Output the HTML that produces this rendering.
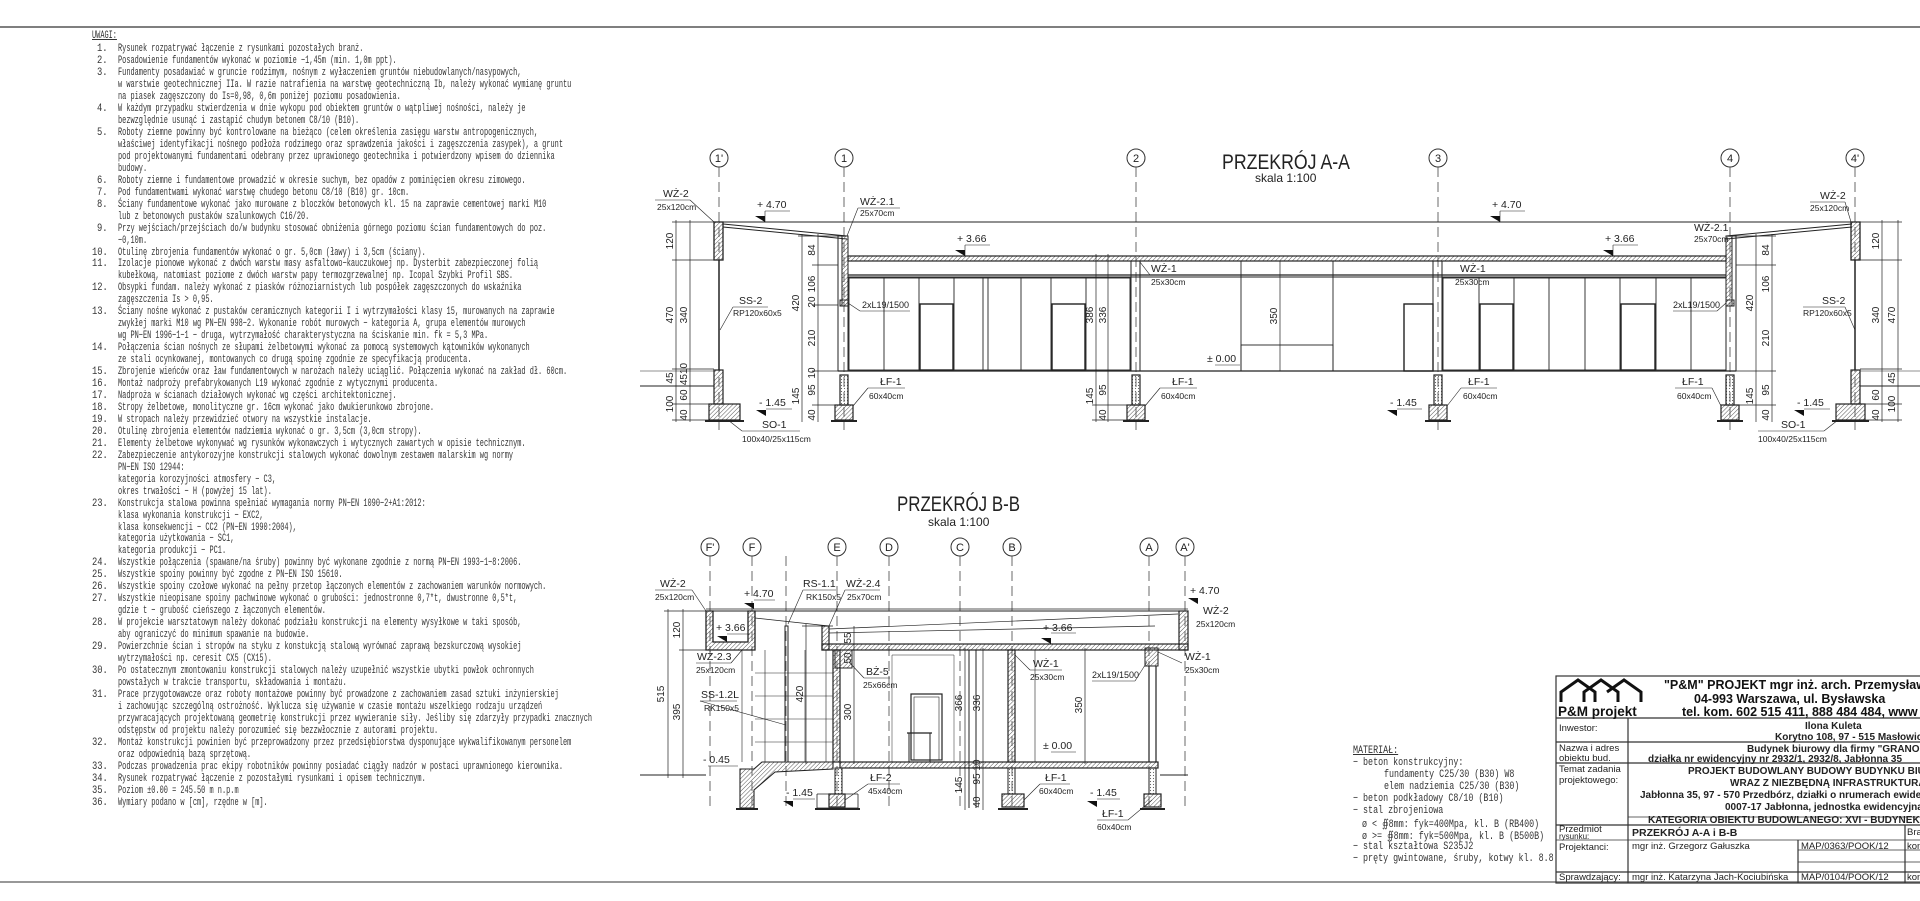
<!DOCTYPE html>
<html><head><meta charset="utf-8">
<style>
html,body{margin:0;padding:0;background:#fff;}
body{width:1920px;height:901px;position:relative;overflow:hidden;}
svg{position:absolute;left:0;top:0;}
.notes{position:absolute;left:0;top:0;font-family:"Liberation Mono",monospace;font-size:11px;color:#333;}
.notes div{position:absolute;white-space:nowrap;transform:scaleX(0.63);transform-origin:0 0;}
.notes div.num{transform:scaleX(0.8);}
.notes div.m{transform:scaleX(0.76);}
</style></head><body>
<svg width="1920" height="901" viewBox="0 0 1920 901" font-family="Liberation Sans, sans-serif" fill="none" stroke="#222" stroke-width="1">
<defs>
<pattern id="h" width="3" height="3" patternUnits="userSpaceOnUse" patternTransform="rotate(45)"><line x1="0" y1="0" x2="0" y2="3" stroke="#555" stroke-width="1"/></pattern>
<pattern id="d" width="3" height="3" patternUnits="userSpaceOnUse"><circle cx="1.5" cy="1.5" r="0.6" fill="#666" stroke="none"/></pattern>
</defs>
<line x1="0" y1="27" x2="1920" y2="27" stroke="#555" stroke-width="1.5"/>
<line x1="0" y1="882" x2="1920" y2="882" stroke="#777" stroke-width="1.5"/>

<!-- ================= SECTION A-A ================= -->
<text x="1222" y="169" font-size="21" fill="#222" stroke="none" textLength="128" lengthAdjust="spacingAndGlyphs">PRZEKRÓJ A-A</text>
<text x="1255" y="182" font-size="12" fill="#222" stroke="none">skala 1:100</text>
<g stroke="#333">
<circle cx="719" cy="158" r="9"/><circle cx="844" cy="158" r="9"/><circle cx="1136" cy="158" r="9"/>
<circle cx="1438" cy="158" r="9"/><circle cx="1730" cy="158" r="9"/><circle cx="1855" cy="158" r="9"/>
</g>
<g font-size="11" fill="#222" stroke="none" text-anchor="middle">
<text x="719" y="162">1'</text><text x="844" y="162">1</text><text x="1136" y="162">2</text>
<text x="1438" y="162">3</text><text x="1730" y="162">4</text><text x="1855" y="162">4'</text>
</g>
<g stroke="#444" stroke-dasharray="10,5" stroke-width="0.8">
<line x1="719" y1="167" x2="719" y2="430"/><line x1="844" y1="167" x2="844" y2="430"/>
<line x1="1136" y1="167" x2="1136" y2="430"/><line x1="1438" y1="167" x2="1438" y2="430"/>
<line x1="1730" y1="167" x2="1730" y2="430"/><line x1="1855" y1="167" x2="1855" y2="430"/>
</g>
<line x1="714" y1="222" x2="1860" y2="222"/>
<line x1="723" y1="224" x2="847" y2="236"/><line x1="723" y1="227" x2="847" y2="239"/>
<line x1="1726" y1="236" x2="1852" y2="224"/><line x1="1726" y1="239" x2="1852" y2="227"/>
<rect x="714" y="222" width="9" height="38" fill="url(#h)" stroke-width="1.3"/>
<rect x="1851" y="222" width="9" height="38" fill="url(#h)" stroke-width="1.3"/>
<rect x="848" y="256" width="878" height="5" fill="url(#h)" stroke-width="1.2"/>
<line x1="848" y1="275" x2="1726" y2="275" stroke-width="1.3"/><line x1="848" y1="277" x2="1726" y2="277"/>
<rect x="838" y="236" width="10" height="135"/>
<rect x="842" y="236" width="6" height="70" fill="url(#h)"/>
<rect x="840" y="300" width="8" height="6" fill="url(#h)"/>
<rect x="1726" y="236" width="10" height="135"/>
<rect x="1726" y="236" width="6" height="70" fill="url(#h)"/>
<rect x="1726" y="300" width="8" height="6" fill="url(#h)"/>
<line x1="719" y1="260" x2="719" y2="370" stroke-width="1.5"/>
<line x1="1855" y1="260" x2="1855" y2="370" stroke-width="1.5"/>
<rect x="1131" y="261" width="9" height="110"/><rect x="1433" y="261" width="9" height="110"/>
<line x1="838" y1="371" x2="1736" y2="371" stroke-width="1.3"/>
<line x1="640" y1="386" x2="714" y2="386"/><line x1="1860" y1="386" x2="1920" y2="386"/>
<line x1="640" y1="371" x2="714" y2="371" stroke-width="0.6"/><line x1="1860" y1="371" x2="1920" y2="371" stroke-width="0.6"/>
<g stroke-width="0.9">
<rect x="849" y="278" width="281" height="92"/>
<line x1="884" y1="278" x2="884" y2="370"/><line x1="919" y1="278" x2="919" y2="370"/>
<line x1="954" y1="278" x2="954" y2="370"/><line x1="983" y1="278" x2="983" y2="370"/>
<line x1="988" y1="278" x2="988" y2="370"/><line x1="1021" y1="278" x2="1021" y2="370"/>
<line x1="1051" y1="278" x2="1051" y2="370"/><line x1="1086" y1="278" x2="1086" y2="370"/>
<rect x="920" y="304" width="33" height="66" stroke-width="1.4"/><rect x="1052" y="304" width="33" height="66" stroke-width="1.4"/>
<rect x="1443" y="278" width="283" height="92"/>
<line x1="1479" y1="278" x2="1479" y2="370"/><line x1="1514" y1="278" x2="1514" y2="370"/>
<line x1="1549" y1="278" x2="1549" y2="370"/><line x1="1585" y1="278" x2="1585" y2="370"/>
<line x1="1620" y1="278" x2="1620" y2="370"/><line x1="1656" y1="278" x2="1656" y2="370"/>
<line x1="1691" y1="278" x2="1691" y2="370"/>
<rect x="1480" y="304" width="33" height="66" stroke-width="1.4"/><rect x="1621" y="304" width="34" height="66" stroke-width="1.4"/>
<line x1="1241" y1="261" x2="1241" y2="371"/><line x1="1333" y1="261" x2="1333" y2="371"/>
<rect x="1241" y="345" width="92" height="26"/>
<rect x="1404" y="304" width="29" height="67" stroke-width="1.4"/>
</g>
<g stroke-width="1.2">
<rect x="714" y="370" width="9" height="34" fill="url(#h)"/><rect x="709" y="404" width="31" height="16" fill="url(#h)"/>
<line x1="705" y1="421" x2="744" y2="421" stroke-width="2"/>
<rect x="1851" y="370" width="9" height="34" fill="url(#h)"/><rect x="1836" y="404" width="29" height="16" fill="url(#h)"/>
<line x1="1832" y1="421" x2="1869" y2="421" stroke-width="2"/>
<rect x="840" y="375" width="8" height="30" fill="url(#d)"/><rect x="835" y="405" width="18" height="15" fill="url(#h)"/><line x1="831" y1="421" x2="857" y2="421" stroke-width="2"/>
<rect x="1132" y="375" width="8" height="30" fill="url(#d)"/><rect x="1127" y="405" width="18" height="15" fill="url(#h)"/><line x1="1123" y1="421" x2="1149" y2="421" stroke-width="2"/>
<rect x="1434" y="375" width="8" height="30" fill="url(#d)"/><rect x="1429" y="405" width="18" height="15" fill="url(#h)"/><line x1="1425" y1="421" x2="1451" y2="421" stroke-width="2"/>
<rect x="1726" y="375" width="8" height="30" fill="url(#d)"/><rect x="1721" y="405" width="18" height="15" fill="url(#h)"/><line x1="1717" y1="421" x2="1743" y2="421" stroke-width="2"/>
</g>
<g stroke-width="0.7">
<line x1="676" y1="220" x2="676" y2="422"/><line x1="690" y1="220" x2="690" y2="422"/>
<line x1="672" y1="222" x2="714" y2="222"/><line x1="672" y1="260" x2="714" y2="260"/><line x1="672" y1="369" x2="714" y2="369"/><line x1="672" y1="386" x2="714" y2="386"/><line x1="672" y1="404" x2="714" y2="404"/><line x1="672" y1="420" x2="714" y2="420"/>
<line x1="802" y1="234" x2="802" y2="422"/><line x1="818" y1="234" x2="818" y2="422"/>
<line x1="798" y1="236" x2="838" y2="236"/><line x1="812" y1="265" x2="838" y2="265"/><line x1="812" y1="305" x2="838" y2="305"/><line x1="812" y1="371" x2="838" y2="371"/><line x1="812" y1="405" x2="838" y2="405"/>
<line x1="1096" y1="254" x2="1096" y2="422"/><line x1="1108" y1="254" x2="1108" y2="422"/>
<line x1="1092" y1="256" x2="1131" y2="256"/><line x1="1092" y1="371" x2="1131" y2="371"/><line x1="1092" y1="405" x2="1131" y2="405"/><line x1="1092" y1="420" x2="1131" y2="420"/>
<line x1="1756" y1="234" x2="1756" y2="422"/><line x1="1772" y1="234" x2="1772" y2="422"/>
<line x1="1736" y1="236" x2="1776" y2="236"/><line x1="1736" y1="265" x2="1776" y2="265"/><line x1="1736" y1="371" x2="1776" y2="371"/><line x1="1736" y1="405" x2="1776" y2="405"/>
<line x1="1882" y1="220" x2="1882" y2="422"/><line x1="1898" y1="220" x2="1898" y2="422"/>
<line x1="1860" y1="222" x2="1902" y2="222"/><line x1="1860" y1="260" x2="1902" y2="260"/><line x1="1860" y1="369" x2="1902" y2="369"/><line x1="1860" y1="386" x2="1902" y2="386"/><line x1="1860" y1="404" x2="1902" y2="404"/><line x1="1860" y1="420" x2="1902" y2="420"/>
<line x1="1280" y1="261" x2="1280" y2="371"/>
</g>
<g font-size="10" fill="#222" stroke="none" text-anchor="middle">
<text transform="translate(673,241) rotate(-90)">120</text>
<text transform="translate(673,315) rotate(-90)">470</text>
<text transform="translate(687,315) rotate(-90)">340</text>
<text transform="translate(673,404) rotate(-90)">100</text>
<text transform="translate(673,378) rotate(-90)">45</text>
<text transform="translate(687,395) rotate(-90)">60</text>
<text transform="translate(687,415) rotate(-90)">40</text>
<text transform="translate(687,374) rotate(-90)">4510</text>
<text transform="translate(799,303) rotate(-90)">420</text>
<text transform="translate(815,250) rotate(-90)">84</text>
<text transform="translate(815,284) rotate(-90)">106</text>
<text transform="translate(815,302) rotate(-90)">20</text>
<text transform="translate(815,338) rotate(-90)">210</text>
<text transform="translate(799,396) rotate(-90)">145</text>
<text transform="translate(815,390) rotate(-90)">95</text>
<text transform="translate(815,415) rotate(-90)">40</text>
<text transform="translate(815,373) rotate(-90)">10</text>
<text transform="translate(1093,315) rotate(-90)">386</text>
<text transform="translate(1106,315) rotate(-90)">336</text>
<text transform="translate(1093,396) rotate(-90)">145</text>
<text transform="translate(1106,390) rotate(-90)">95</text>
<text transform="translate(1106,415) rotate(-90)">40</text>
<text transform="translate(1277,316) rotate(-90)">350</text>
<text transform="translate(1753,303) rotate(-90)">420</text>
<text transform="translate(1769,250) rotate(-90)">84</text>
<text transform="translate(1769,284) rotate(-90)">106</text>
<text transform="translate(1769,338) rotate(-90)">210</text>
<text transform="translate(1753,396) rotate(-90)">145</text>
<text transform="translate(1769,390) rotate(-90)">95</text>
<text transform="translate(1769,415) rotate(-90)">40</text>
<text transform="translate(1879,241) rotate(-90)">120</text>
<text transform="translate(1895,315) rotate(-90)">470</text>
<text transform="translate(1879,315) rotate(-90)">340</text>
<text transform="translate(1895,404) rotate(-90)">100</text>
<text transform="translate(1895,378) rotate(-90)">45</text>
<text transform="translate(1879,395) rotate(-90)">60</text>
<text transform="translate(1879,415) rotate(-90)">40</text>
</g>
<g font-size="10.5" fill="#222" stroke="none">
<text x="663" y="197">WŻ-2</text><text x="657" y="210" font-size="8.5">25x120cm</text>
<text x="860" y="205">WŻ-2.1</text><text x="860" y="216" font-size="8.5">25x70cm</text>
<text x="1151" y="272">WŻ-1</text><text x="1151" y="285" font-size="8.5">25x30cm</text>
<text x="1460" y="272">WŻ-1</text><text x="1455" y="285" font-size="8.5">25x30cm</text>
<text x="862" y="308" font-size="9">2xL19/1500</text>
<text x="1673" y="308" font-size="9">2xL19/1500</text>
<text x="739" y="304">SS-2</text><text x="733" y="316" font-size="8.5">RP120x60x5</text>
<text x="1822" y="304">SS-2</text><text x="1803" y="316" font-size="8.5">RP120x60x5</text>
<text x="1820" y="199">WŻ-2</text><text x="1810" y="211" font-size="8.5">25x120cm</text>
<text x="1694" y="231">WŻ-2.1</text><text x="1694" y="242" font-size="8.5">25x70cm</text>
<text x="880" y="385">ŁF-1</text><text x="869" y="399" font-size="8.5">60x40cm</text>
<text x="1172" y="385">ŁF-1</text><text x="1161" y="399" font-size="8.5">60x40cm</text>
<text x="1468" y="385">ŁF-1</text><text x="1463" y="399" font-size="8.5">60x40cm</text>
<text x="1682" y="385">ŁF-1</text><text x="1677" y="399" font-size="8.5">60x40cm</text>
<text x="762" y="428">SO-1</text><text x="742" y="442" font-size="8.5">100x40/25x115cm</text>
<text x="1781" y="428">SO-1</text><text x="1758" y="442" font-size="8.5">100x40/25x115cm</text>
<text x="757" y="208">+ 4.70</text><text x="1492" y="208">+ 4.70</text>
<text x="957" y="242">+ 3.66</text><text x="1605" y="242">+ 3.66</text>
<text x="759" y="406">- 1.45</text><text x="1390" y="406">- 1.45</text><text x="1797" y="406">- 1.45</text>
<text x="1207" y="362">± 0.00</text>
</g>
<g fill="#111" stroke="none">
<polygon points="755,216 765,216 765,222"/><polygon points="1490,216 1500,216 1500,222"/>
<polygon points="955,250 965,250 965,256"/><polygon points="1603,250 1613,250 1613,256"/>
<polygon points="756,410 766,410 766,416"/><polygon points="1387,410 1397,410 1397,416"/><polygon points="1794,410 1804,410 1804,416"/>
</g>
<g stroke-width="0.6">
<line x1="655" y1="200" x2="690" y2="200"/><line x1="690" y1="200" x2="714" y2="222"/>
<line x1="858" y1="208" x2="900" y2="208"/><line x1="858" y1="208" x2="847" y2="236"/>
<line x1="1150" y1="275" x2="1185" y2="275"/><line x1="1150" y1="275" x2="1140" y2="262"/>
<line x1="860" y1="311" x2="910" y2="311"/><line x1="860" y1="311" x2="848" y2="303"/>
<line x1="1673" y1="311" x2="1717" y2="311"/><line x1="1717" y1="311" x2="1726" y2="303"/>
<line x1="733" y1="307" x2="768" y2="307"/><line x1="733" y1="307" x2="720" y2="330"/>
<line x1="1803" y1="307" x2="1845" y2="307"/><line x1="1845" y1="307" x2="1855" y2="330"/>
<line x1="1810" y1="202" x2="1845" y2="202"/><line x1="1845" y1="202" x2="1851" y2="222"/>
<line x1="868" y1="388" x2="905" y2="388"/><line x1="868" y1="388" x2="853" y2="406"/>
<line x1="1160" y1="388" x2="1197" y2="388"/><line x1="1160" y1="388" x2="1145" y2="406"/>
<line x1="1461" y1="388" x2="1497" y2="388"/><line x1="1461" y1="388" x2="1447" y2="406"/>
<line x1="1675" y1="388" x2="1712" y2="388"/><line x1="1712" y1="388" x2="1721" y2="406"/>
<line x1="742" y1="431" x2="800" y2="431"/><line x1="742" y1="431" x2="728" y2="420"/>
<line x1="1758" y1="431" x2="1824" y2="431"/><line x1="1824" y1="431" x2="1838" y2="420"/>
<line x1="765" y1="211" x2="790" y2="211"/><line x1="765" y1="211" x2="765" y2="222"/>
<line x1="1500" y1="211" x2="1525" y2="211"/><line x1="1500" y1="211" x2="1500" y2="222"/>
<line x1="965" y1="245" x2="990" y2="245"/><line x1="965" y1="245" x2="965" y2="256"/>
<line x1="1613" y1="245" x2="1638" y2="245"/><line x1="1613" y1="245" x2="1613" y2="256"/>
<line x1="766" y1="409" x2="792" y2="409"/><line x1="1397" y1="409" x2="1422" y2="409"/><line x1="1804" y1="409" x2="1830" y2="409"/>
<line x1="1215" y1="365" x2="1240" y2="365"/>
</g>

<!-- ================= SECTION B-B ================= -->
<text x="897" y="511" font-size="21" fill="#222" stroke="none" textLength="123" lengthAdjust="spacingAndGlyphs">PRZEKRÓJ B-B</text>
<text x="928" y="526" font-size="12" fill="#222" stroke="none">skala 1:100</text>
<g stroke="#333">
<circle cx="710" cy="547" r="9"/><circle cx="752" cy="547" r="9"/><circle cx="837" cy="547" r="9"/><circle cx="889" cy="547" r="9"/>
<circle cx="960" cy="547" r="9"/><circle cx="1012" cy="547" r="9"/><circle cx="1149" cy="547" r="9"/><circle cx="1185" cy="547" r="9"/>
</g>
<g font-size="11" fill="#222" stroke="none" text-anchor="middle">
<text x="710" y="551">F'</text><text x="752" y="551">F</text><text x="837" y="551">E</text><text x="889" y="551">D</text>
<text x="960" y="551">C</text><text x="1012" y="551">B</text><text x="1149" y="551">A</text><text x="1185" y="551">A'</text>
</g>
<g stroke="#444" stroke-dasharray="10,5" stroke-width="0.8">
<line x1="710" y1="556" x2="710" y2="808"/><line x1="752" y1="556" x2="752" y2="808"/><line x1="837" y1="556" x2="837" y2="808"/>
<line x1="889" y1="556" x2="889" y2="808"/><line x1="960" y1="556" x2="960" y2="808"/><line x1="1012" y1="556" x2="1012" y2="808"/>
<line x1="1149" y1="556" x2="1149" y2="808"/><line x1="1185" y1="556" x2="1185" y2="808"/><line x1="786" y1="556" x2="786" y2="808"/>
</g>
<line x1="706" y1="609" x2="1188" y2="609" stroke-width="0.7"/>
<line x1="706" y1="611" x2="1188" y2="611"/>
<path d="M706,611 V650 H755 V611 H748 V642 H713 V611 Z" fill="url(#h)" stroke-width="1.3"/>
<rect x="822" y="626" width="7" height="24" fill="url(#h)" stroke-width="1.2"/>
<rect x="1179" y="611" width="9" height="39" fill="url(#h)" stroke-width="1.2"/>
<rect x="822" y="644" width="366" height="6" fill="url(#h)" stroke-width="1.2"/>
<line x1="755" y1="618" x2="829" y2="626" stroke-width="0.7"/>
<line x1="829" y1="633" x2="1155" y2="626" stroke-width="0.7"/><line x1="829" y1="629" x2="1178" y2="614" stroke-width="0.7"/>
<rect x="833" y="650" width="7" height="112" fill="url(#h)" stroke-width="1.2"/>
<rect x="835" y="650" width="17" height="18" fill="url(#h)"/>
<rect x="1008" y="650" width="7" height="112" fill="url(#h)" stroke-width="1.2"/>
<rect x="1145" y="648" width="13" height="18" fill="url(#h)"/>
<line x1="1149" y1="666" x2="1149" y2="762" stroke-width="1.2"/><line x1="1156" y1="666" x2="1156" y2="762" stroke-width="1.2"/>
<line x1="969" y1="650" x2="969" y2="808"/><line x1="976" y1="650" x2="976" y2="808"/>
<line x1="1035" y1="650" x2="1035" y2="762" stroke-width="0.6"/>
<g stroke-width="0.6">
<line x1="742" y1="650" x2="742" y2="762"/><line x1="765" y1="650" x2="765" y2="762"/>
<line x1="755" y1="673" x2="833" y2="673"/><line x1="755" y1="696" x2="833" y2="696"/><line x1="755" y1="719" x2="833" y2="719"/><line x1="755" y1="742" x2="833" y2="742"/>
<line x1="805" y1="650" x2="805" y2="762"/><line x1="826" y1="650" x2="826" y2="762"/>
</g>
<rect x="785" y="626" width="3" height="136" stroke-width="1"/>
<rect x="911" y="694" width="31" height="66" stroke-width="1.2"/><rect x="914" y="697" width="25" height="63" stroke-width="0.6"/>
<line x1="907" y1="733" x2="932" y2="733" stroke-width="1.2"/><line x1="909" y1="733" x2="909" y2="762"/><line x1="930" y1="733" x2="930" y2="762"/>
<path d="M892,762 V655 H954 V762" stroke-width="0.5"/>
<rect x="840" y="762" width="318" height="6" fill="url(#h)" stroke-width="1.2"/>
<line x1="640" y1="775" x2="706" y2="775"/><line x1="1160" y1="775" x2="1188" y2="775"/>
<path d="M740,769 L754,769 L762,762 L833,762 L833,769 L775,772 L754,790 L754,808 L740,808 Z" fill="url(#h)" stroke-width="1.1"/>
<line x1="736" y1="809" x2="758" y2="809" stroke-width="2"/>
<rect x="835" y="768" width="7" height="26" fill="url(#d)" stroke-width="1"/><rect x="829" y="794" width="16" height="13" fill="url(#h)" stroke-width="1.2"/>
<path d="M817,794 H829 M845,794 H858 M817,794 V808 H858 V794" stroke-width="0.8"/>
<line x1="815" y1="809" x2="860" y2="809" stroke-width="2"/>
<rect x="1008" y="768" width="7" height="26" fill="url(#d)"/><rect x="1002" y="794" width="22" height="13" fill="url(#h)" stroke-width="1.2"/>
<line x1="998" y1="809" x2="1028" y2="809" stroke-width="2"/>
<rect x="1149" y="768" width="7" height="26" fill="url(#d)"/><rect x="1144" y="794" width="17" height="13" fill="url(#h)" stroke-width="1.2"/>
<line x1="1140" y1="809" x2="1165" y2="809" stroke-width="2"/>
<g stroke-width="0.7">
<line x1="668" y1="609" x2="668" y2="778"/><line x1="683" y1="609" x2="683" y2="778"/>
<line x1="664" y1="611" x2="706" y2="611"/><line x1="679" y1="650" x2="706" y2="650"/><line x1="664" y1="775" x2="706" y2="775"/>
<line x1="806" y1="624" x2="806" y2="764"/><line x1="802" y1="626" x2="833" y2="626"/><line x1="802" y1="762" x2="833" y2="762"/>
<line x1="854" y1="626" x2="854" y2="764"/>
<line x1="965" y1="648" x2="965" y2="810"/><line x1="983" y1="648" x2="983" y2="810"/>
<line x1="1085" y1="648" x2="1085" y2="764"/>
</g>
<g font-size="10" fill="#222" stroke="none" text-anchor="middle">
<text transform="translate(664,694) rotate(-90)">515</text>
<text transform="translate(680,630) rotate(-90)">120</text>
<text transform="translate(680,712) rotate(-90)">395</text>
<text transform="translate(803,694) rotate(-90)">420</text>
<text transform="translate(851,712) rotate(-90)">300</text>
<text transform="translate(851,658) rotate(-90)">50</text>
<text transform="translate(851,638) rotate(-90)">55</text>
<text transform="translate(962,703) rotate(-90)">366</text>
<text transform="translate(980,703) rotate(-90)">336</text>
<text transform="translate(1082,705) rotate(-90)">350</text>
<text transform="translate(962,785) rotate(-90)">145</text>
<text transform="translate(980,779) rotate(-90)">95</text>
<text transform="translate(980,802) rotate(-90)">40</text>
<text transform="translate(980,765) rotate(-90)">10</text>
</g>
<g font-size="10.5" fill="#222" stroke="none">
<text x="660" y="587">WŻ-2</text><text x="655" y="600" font-size="8.5">25x120cm</text>
<text x="803" y="587">RS-1.1</text><text x="806" y="600" font-size="8.5">RK150x5</text>
<text x="846" y="587">WŻ-2.4</text><text x="847" y="600" font-size="8.5">25x70cm</text>
<text x="697" y="660">WŻ-2.3</text><text x="696" y="673" font-size="8.5">25x120cm</text>
<text x="701" y="698">SS-1.2L</text><text x="704" y="711" font-size="8.5">RK150x5</text>
<text x="866" y="675">BŻ-5</text><text x="863" y="688" font-size="8.5">25x66cm</text>
<text x="1033" y="667">WŻ-1</text><text x="1030" y="680" font-size="8.5">25x30cm</text>
<text x="1092" y="678" font-size="9">2xL19/1500</text>
<text x="1185" y="660">WŻ-1</text><text x="1185" y="673" font-size="8.5">25x30cm</text>
<text x="1203" y="614">WŻ-2</text><text x="1196" y="627" font-size="8.5">25x120cm</text>
<text x="870" y="781">ŁF-2</text><text x="868" y="794" font-size="8.5">45x40cm</text>
<text x="1045" y="781">ŁF-1</text><text x="1039" y="794" font-size="8.5">60x40cm</text>
<text x="1102" y="817">ŁF-1</text><text x="1097" y="830" font-size="8.5">60x40cm</text>
<text x="744" y="597">+ 4.70</text><text x="1190" y="594">+ 4.70</text>
<text x="716" y="631">+ 3.66</text><text x="1043" y="631">+ 3.66</text>
<text x="1043" y="749">± 0.00</text>
<text x="703" y="763">- 0.45</text>
<text x="786" y="796">- 1.45</text><text x="1090" y="796">- 1.45</text>
</g>
<g fill="#111" stroke="none">
<polygon points="744,603 754,603 754,609"/><polygon points="717,636 727,636 727,642"/><polygon points="1041,638 1051,638 1051,644"/>
<polygon points="783,801 793,801 793,807"/><polygon points="1087,801 1097,801 1097,807"/><polygon points="1188,598 1198,598 1198,604"/>
</g>
<g stroke-width="0.6">
<line x1="655" y1="590" x2="692" y2="590"/><line x1="692" y1="590" x2="706" y2="611"/>
<line x1="803" y1="590" x2="836" y2="590"/><line x1="803" y1="590" x2="788" y2="624"/>
<line x1="845" y1="590" x2="880" y2="590"/><line x1="845" y1="590" x2="829" y2="626"/>
<line x1="696" y1="663" x2="731" y2="663"/><line x1="731" y1="663" x2="742" y2="650"/>
<line x1="700" y1="701" x2="737" y2="701"/><line x1="700" y1="701" x2="786" y2="725"/>
<line x1="864" y1="678" x2="890" y2="678"/><line x1="864" y1="678" x2="849" y2="662"/>
<line x1="1030" y1="670" x2="1062" y2="670"/><line x1="1030" y1="670" x2="1015" y2="655"/>
<line x1="1092" y1="681" x2="1135" y2="681"/><line x1="1135" y1="681" x2="1147" y2="662"/>
<line x1="868" y1="784" x2="900" y2="784"/><line x1="868" y1="784" x2="845" y2="800"/>
<line x1="1040" y1="784" x2="1070" y2="784"/><line x1="1040" y1="784" x2="1024" y2="800"/>
<line x1="1097" y1="820" x2="1128" y2="820"/><line x1="1128" y1="820" x2="1152" y2="800"/>
<line x1="754" y1="600" x2="775" y2="600"/><line x1="1051" y1="633" x2="1076" y2="633"/><line x1="727" y1="634" x2="750" y2="634"/>
<line x1="1051" y1="752" x2="1076" y2="752"/><line x1="708" y1="766" x2="738" y2="766"/>
<line x1="793" y1="799" x2="815" y2="799"/><line x1="1097" y1="799" x2="1120" y2="799"/>
<line x1="1182" y1="663" x2="1158" y2="652"/>
</g>

<!-- ================= TITLE BLOCK ================= -->
<g stroke="#333" stroke-width="1.2">
<rect x="1556" y="676" width="380" height="207"/>
<line x1="1556" y1="718" x2="1920" y2="718"/>
<line x1="1556" y1="742" x2="1920" y2="742"/>
<line x1="1556" y1="763" x2="1920" y2="763"/>
<line x1="1628" y1="817" x2="1920" y2="817" stroke-width="0.8"/>
<line x1="1556" y1="825" x2="1920" y2="825"/>
<line x1="1556" y1="840" x2="1920" y2="840" stroke-width="0.8"/>
<line x1="1798" y1="850" x2="1920" y2="850" stroke-width="0.7"/>
<line x1="1798" y1="862" x2="1920" y2="862" stroke-width="0.7"/>
<line x1="1556" y1="872" x2="1920" y2="872"/>
<line x1="1628" y1="718" x2="1628" y2="883"/>
<line x1="1798" y1="840" x2="1798" y2="883"/>
<line x1="1905" y1="825" x2="1905" y2="883"/>
</g>
<g stroke="#111" stroke-width="3" fill="none">
<polyline points="1561,702 1561,692 1578,680 1595,692 1595,702"/>
<polyline points="1584,702 1584,692 1601,680 1618,692 1618,702"/>
<polyline points="1607,692 1624,680 1641,692 1641,702"/>
</g>
<g fill="#111" stroke="none" font-weight="bold">
<text x="1558" y="716" font-size="13.5">P&amp;M projekt</text>
<text x="1664" y="689" font-size="12.5">"P&amp;M" PROJEKT mgr inż. arch. Przemysław</text>
<text x="1694" y="703" font-size="12.5">04-993 Warszawa, ul. Bysławska</text>
<text x="1682" y="716" font-size="12.5">tel. kom. 602 515 411, 888 484 484, www</text>
</g>
<g fill="#222" stroke="none" font-size="9.5">
<text x="1559" y="731">Inwestor:</text>
<text x="1559" y="751">Nazwa i adres</text><text x="1559" y="761">obiektu bud.</text>
<text x="1559" y="772">Temat zadania</text><text x="1559" y="783">projektowego:</text>
<text x="1559" y="832">Przedmiot</text><text x="1559" y="839" font-size="8">rysunku:</text>
<text x="1559" y="850">Projektanci:</text>
<text x="1559" y="880">Sprawdzający:</text>
<text x="1632" y="849">mgr inż. Grzegorz Gałuszka</text>
<text x="1632" y="880">mgr inż. Katarzyna Jach-Kociubińska</text>
<text x="1801" y="849">MAP/0363/POOK/12</text>
<text x="1801" y="880">MAP/0104/POOK/12</text>
<text x="1907" y="835">Bra</text><text x="1907" y="849">kon</text><text x="1907" y="880">kon</text>
</g>
<g fill="#222" stroke="none" font-size="10" font-weight="bold">
<text x="1805" y="729">Ilona Kuleta</text>
<text x="1775" y="740">Korytno 108, 97 - 515 Masłowice</text>
<text x="1747" y="752">Budynek biurowy dla firmy "GRANO - SERWIS"</text>
<text x="1648" y="762">działka nr ewidencyjny nr 2932/1, 2932/8, Jabłonna 35</text>
<text x="1688" y="774">PROJEKT BUDOWLANY BUDOWY BUDYNKU BIUROWEGO</text>
<text x="1730" y="786">WRAZ Z NIEZBĘDNĄ INFRASTRUKTURĄ TECHNICZNĄ</text>
<text x="1640" y="798">Jabłonna 35, 97 - 570 Przedbórz, działki o nrumerach ewidencyjnych</text>
<text x="1725" y="810">0007-17 Jabłonna, jednostka ewidencyjna</text>
<text x="1648" y="823">KATEGORIA OBIEKTU BUDOWLANEGO: XVI - BUDYNEK BIUROWY</text>
<text x="1632" y="836" font-size="10.5">PRZEKRÓJ A-A i B-B</text>
</g>
</svg>

<div class="notes">
<div style="left:92px;top:30px;text-decoration:underline">UWAGI:</div>
<div class="num" style="left:97px;top:43px">1.</div><div style="left:118px;top:43px">Rysunek rozpatrywać łączenie z rysunkami pozostałych branż.</div>
<div class="num" style="left:97px;top:55px">2.</div><div style="left:118px;top:55px">Posadowienie fundamentów wykonać w poziomie −1,45m (min. 1,0m ppt).</div>
<div class="num" style="left:97px;top:67px">3.</div><div style="left:118px;top:67px">Fundamenty posadawiać w gruncie rodzimym, nośnym z wyłaczeniem gruntów niebudowlanych/nasypowych,</div>
<div style="left:118px;top:79px">w warstwie geotechnicznej IIa. W razie natrafienia na warstwę geotechniczną Ib, należy wykonać wymianę gruntu</div>
<div style="left:118px;top:91px">na piasek zagęszczony do Is=0,98, 0,6m poniżej poziomu posadowienia.</div>
<div class="num" style="left:97px;top:103px">4.</div><div style="left:118px;top:103px">W każdym przypadku stwierdzenia w dnie wykopu pod obiektem gruntów o wątpliwej nośności, należy je</div>
<div style="left:118px;top:115px">bezwzględnie usunąć i zastąpić chudym betonem C8/10 (B10).</div>
<div class="num" style="left:97px;top:127px">5.</div><div style="left:118px;top:127px">Roboty ziemne powinny być kontrolowane na bieżąco (celem określenia zasięgu warstw antropogenicznych,</div>
<div style="left:118px;top:139px">właściwej identyfikacji nośnego podłoża rodzimego oraz sprawdzenia jakości i zagęszczenia zasypek), a grunt</div>
<div style="left:118px;top:151px">pod projektowanymi fundamentami odebrany przez uprawionego geotechnika i potwierdzony wpisem do dziennika</div>
<div style="left:118px;top:163px">budowy.</div>
<div class="num" style="left:97px;top:175px">6.</div><div style="left:118px;top:175px">Roboty ziemne i fundamentowe prowadzić w okresie suchym, bez opadów z pominięciem okresu zimowego.</div>
<div class="num" style="left:97px;top:187px">7.</div><div style="left:118px;top:187px">Pod fundamentwami wykonać warstwę chudego betonu C8/10 (B10) gr. 10cm.</div>
<div class="num" style="left:97px;top:199px">8.</div><div style="left:118px;top:199px">Ściany fundamentowe wykonać jako murowane z bloczków betonowych kl. 15 na zaprawie cementowej marki M10</div>
<div style="left:118px;top:211px">lub z betonowych pustaków szalunkowych C16/20.</div>
<div class="num" style="left:97px;top:223px">9.</div><div style="left:118px;top:223px">Przy wejściach/przejściach do/w budynku stosować obniżenia górnego poziomu ścian fundamentowych do poz.</div>
<div style="left:118px;top:235px">−0,10m.</div>
<div class="num" style="left:92px;top:247px">10.</div><div style="left:118px;top:247px">Otulinę zbrojenia fundamentów wykonać o gr. 5,0cm (ławy) i 3,5cm (ściany).</div>
<div class="num" style="left:92px;top:258px">11.</div><div style="left:118px;top:258px">Izolacje pionowe wykonać z dwóch warstw masy asfaltowo−kauczukowej np. Dysterbit zabezpieczonej folią</div>
<div style="left:118px;top:270px">kubełkową, natomiast poziome z dwóch warstw papy termozgrzewalnej np. Icopal Szybki Profil SBS.</div>
<div class="num" style="left:92px;top:282px">12.</div><div style="left:118px;top:282px">Obsypki fundam. należy wykonać z piasków różnoziarnistych lub pospółek zagęszczonych do wskaźnika</div>
<div style="left:118px;top:294px">zagęszczenia Is &gt; 0,95.</div>
<div class="num" style="left:92px;top:306px">13.</div><div style="left:118px;top:306px">Ściany nośne wykonać z pustaków ceramicznych kategorii I i wytrzymałości klasy 15, murowanych na zaprawie</div>
<div style="left:118px;top:318px">zwykłej marki M10 wg PN−EN 998−2. Wykonanie robót murowych − kategoria A, grupa elementów murowych</div>
<div style="left:118px;top:330px">wg PN−EN 1996−1−1 − druga, wytrzymałość charakterystyczna na ściskanie min. fk = 5,3 MPa.</div>
<div class="num" style="left:92px;top:342px">14.</div><div style="left:118px;top:342px">Połączenia ścian nośnych ze słupami żelbetowymi wykonać za pomocą systemowych kątowników wykonanych</div>
<div style="left:118px;top:354px">ze stali ocynkowanej, montowanych co drugą spoinę zgodnie ze specyfikacją producenta.</div>
<div class="num" style="left:92px;top:366px">15.</div><div style="left:118px;top:366px">Zbrojenie wieńców oraz ław fundamentowych w narożach należy uciąglić. Połączenia wykonać na zakład dł. 60cm.</div>
<div class="num" style="left:92px;top:378px">16.</div><div style="left:118px;top:378px">Montaż nadproży prefabrykowanych L19 wykonać zgodnie z wytycznymi producenta.</div>
<div class="num" style="left:92px;top:390px">17.</div><div style="left:118px;top:390px">Nadproża w ścianach działowych wykonać wg części architektonicznej.</div>
<div class="num" style="left:92px;top:402px">18.</div><div style="left:118px;top:402px">Stropy żelbetowe, monolityczne gr. 16cm wykonać jako dwukierunkowo zbrojone.</div>
<div class="num" style="left:92px;top:414px">19.</div><div style="left:118px;top:414px">W stropach należy przewidzieć otwory na wszystkie instalacje.</div>
<div class="num" style="left:92px;top:426px">20.</div><div style="left:118px;top:426px">Otulinę zbrojenia elementów nadziemia wykonać o gr. 3,5cm (3,0cm stropy).</div>
<div class="num" style="left:92px;top:438px">21.</div><div style="left:118px;top:438px">Elementy żelbetowe wykonywać wg rysunków wykonawczych i wytycznych zawartych w opisie technicznym.</div>
<div class="num" style="left:92px;top:450px">22.</div><div style="left:118px;top:450px">Zabezpieczenie antykorozyjne konstrukcji stalowych wykonać dowolnym zestawem malarskim wg normy</div>
<div style="left:118px;top:462px">PN−EN ISO 12944:</div>
<div style="left:118px;top:474px">kategoria korozyjności atmosfery − C3,</div>
<div style="left:118px;top:486px">okres trwałości − H (powyżej 15 lat).</div>
<div class="num" style="left:92px;top:498px">23.</div><div style="left:118px;top:498px">Konstrukcja stalowa powinna spełniać wymagania normy PN−EN 1090−2+A1:2012:</div>
<div style="left:118px;top:510px">klasa wykonania konstrukcji − EXC2,</div>
<div style="left:118px;top:522px">klasa konsekwencji − CC2 (PN−EN 1990:2004),</div>
<div style="left:118px;top:533px">kategoria użytkowania − SC1,</div>
<div style="left:118px;top:545px">kategoria produkcji − PC1.</div>
<div class="num" style="left:92px;top:557px">24.</div><div style="left:118px;top:557px">Wszystkie połączenia (spawane/na śruby) powinny być wykonane zgodnie z normą PN−EN 1993−1−8:2006.</div>
<div class="num" style="left:92px;top:569px">25.</div><div style="left:118px;top:569px">Wszystkie spoiny powinny być zgodne z PN−EN ISO 15610.</div>
<div class="num" style="left:92px;top:581px">26.</div><div style="left:118px;top:581px">Wszystkie spoiny czołowe wykonać na pełny przetop łączonych elementów z zachowaniem warunków normowych.</div>
<div class="num" style="left:92px;top:593px">27.</div><div style="left:118px;top:593px">Wszystkie nieopisane spoiny pachwinowe wykonać o grubości: jednostronne 0,7*t, dwustronne 0,5*t,</div>
<div style="left:118px;top:605px">gdzie t − grubość cieńszego z łączonych elementów.</div>
<div class="num" style="left:92px;top:617px">28.</div><div style="left:118px;top:617px">W projekcie warsztatowym należy dokonać podziału konstrukcji na elementy wysyłkowe w taki sposób,</div>
<div style="left:118px;top:629px">aby ograniczyć do minimum spawanie na budowie.</div>
<div class="num" style="left:92px;top:641px">29.</div><div style="left:118px;top:641px">Powierzchnie ścian i stropów na styku z konstukcją stalową wyrównać zaprawą bezskurczową wysokiej</div>
<div style="left:118px;top:653px">wytrzymałości np. ceresit CX5 (CX15).</div>
<div class="num" style="left:92px;top:665px">30.</div><div style="left:118px;top:665px">Po ostatecznym zmontowaniu konstrukcji stalowych należy uzupełnić wszystkie ubytki powłok ochronnych</div>
<div style="left:118px;top:677px">powstałych w trakcie transportu, składowania i montażu.</div>
<div class="num" style="left:92px;top:689px">31.</div><div style="left:118px;top:689px">Prace przygotowawcze oraz roboty montażowe powinny być prowadzone z zachowaniem zasad sztuki inżynierskiej</div>
<div style="left:118px;top:701px">i zachowując szczególną ostrożność. Wyklucza się używanie w czasie montażu wszelkiego rodzaju urządzeń</div>
<div style="left:118px;top:713px">przywracających projektowaną geometrię konstrukcji przez wywieranie siły. Jeśliby się zdarzyły przypadki znacznych</div>
<div style="left:118px;top:725px">odstępstw od projektu należy porozumieć się bezzwłocznie z autorami projektu.</div>
<div class="num" style="left:92px;top:737px">32.</div><div style="left:118px;top:737px">Montaż konstrukcji powinien być przeprowadzony przez przedsiębiorstwa dysponujące wykwalifikowanym personelem</div>
<div style="left:118px;top:749px">oraz odpowiednią bazą sprzętową.</div>
<div class="num" style="left:92px;top:761px">33.</div><div style="left:118px;top:761px">Podczas prowadzenia prac ekipy robotników powinny posiadać ciągły nadzór w postaci uprawnionego kierownika.</div>
<div class="num" style="left:92px;top:773px">34.</div><div style="left:118px;top:773px">Rysunek rozpatrywać łączenie z pozostałymi rysunkami i opisem technicznym.</div>
<div class="num" style="left:92px;top:785px">35.</div><div style="left:118px;top:785px">Poziom ±0.00 = 245.50 m n.p.m</div>
<div class="num" style="left:92px;top:797px">36.</div><div style="left:118px;top:797px">Wymiary podano w [cm], rzędne w [m].</div>

<div class="m" style="left:1353px;top:745px;text-decoration:underline">MATERIAŁ:</div>
<div class="m" style="left:1353px;top:757px">− beton konstrukcyjny:</div>
<div class="m" style="left:1384px;top:769px">fundamenty C25/30 (B30) W8</div>
<div class="m" style="left:1384px;top:781px">elem nadziemia C25/30 (B30)</div>
<div class="m" style="left:1353px;top:793px">− beton podkładowy C8/10 (B10)</div>
<div class="m" style="left:1353px;top:805px">− stal zbrojeniowa</div>
<div class="m" style="left:1362px;top:817px">ø &lt; ∯8mm: fyk=400Mpa, kl. B (RB400)</div>
<div class="m" style="left:1362px;top:829px">ø &gt;= ∯8mm: fyk=500Mpa, kl. B (B500B)</div>
<div class="m" style="left:1353px;top:841px">− stal kształtowa S235J2</div>
<div class="m" style="left:1353px;top:853px">− pręty gwintowane, śruby, kotwy kl. 8.8</div>
</div>
</body></html>
